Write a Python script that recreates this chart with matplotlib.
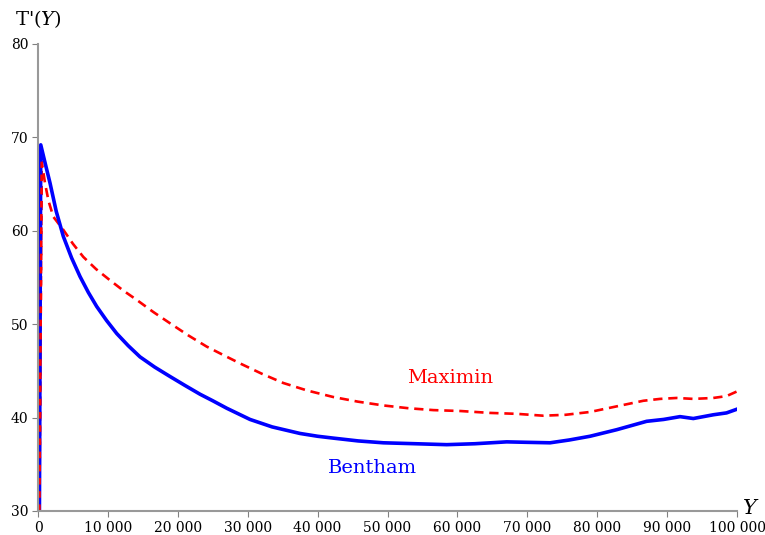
import numpy as np
import matplotlib.pyplot as plt

# Bentham / Maximin curves
x_bentham = [200, 390, 1000, 1720, 2600, 3620, 4800, 6010, 7200, 8390, 9800, 11260, 12900,
             14590, 16700, 18880, 21000, 23180, 25000, 27000, 30330, 33500, 37480, 40000,
             42250, 45800, 49400, 54000, 58470, 62500, 67050, 70000, 73250, 76000, 78970,
             82780, 87070, 89500, 91850, 93750, 96610, 98500, 100000]
y_bentham = [30, 69.2, 67.3, 65.1, 62.1, 59.4, 57.1, 55.1, 53.4, 51.9, 50.4, 49.0, 47.7,
             46.5, 45.4, 44.4, 43.45, 42.5, 41.8, 41.0, 39.8, 39.0, 38.3, 38.0,
             37.8, 37.5, 37.3, 37.2, 37.1, 37.2, 37.4, 37.35, 37.3, 37.6, 38.0,
             38.7, 39.6, 39.8, 40.1, 39.9, 40.3, 40.5, 40.9]

x_maximin = [200, 530, 1000, 1500, 2190, 3620, 5000, 6480, 8300, 10300, 12200, 14120,
             16500, 18880, 21500, 24130, 26500, 28900, 32000, 35100, 38500, 42250,
             45800, 49400, 53000, 56560, 60500, 64660, 68500, 72290, 75500, 78970,
             82780, 86600, 89000, 91370, 93750, 96610, 98500, 100000]
y_maximin = [30, 67.4, 65.1, 63.2, 61.5, 60.1, 58.6, 57.2, 55.9, 54.7, 53.6, 52.6,
             51.3, 50.1, 48.8, 47.6, 46.7, 45.8, 44.7, 43.7, 42.9, 42.2,
             41.7, 41.3, 41.0, 40.8, 40.7, 40.5, 40.4, 40.2, 40.3, 40.6,
             41.2, 41.8, 42.0, 42.1, 42.0, 42.1, 42.3, 42.8]

xticks = list(range(0, 100001, 10000))
xtick_labels = ["0"] + [f"{v // 1000} 000" for v in xticks[1:]]
yticks = [30, 40, 50, 60, 70, 80]

plt.rcParams['font.family'] = ['DejaVu Serif']
plt.rcParams['mathtext.fontset'] = 'dejavuserif'

fig = plt.figure(figsize=(7.65, 5.35), dpi=100)
ax = fig.add_axes([0.0497, 0.0449, 0.9137, 0.8729])

ax.plot(x_maximin, y_maximin, color='red', lw=1.9, dashes=(3.5, 2.2))
ax.plot(x_bentham, y_bentham, color='blue', lw=2.6)
# rising edge at the origin, dashed red drawn over the blue
ax.plot(x_maximin[:2], y_maximin[:2], color='red', lw=1.9, dashes=(2.5, 2.5))

ax.set_xlim(0, 100000)
ax.set_ylim(30, 80)
ax.set_xticks(xticks)
ax.set_xticklabels(xtick_labels)
ax.set_yticks(yticks)
ax.tick_params(labelsize=10, length=4, color='gray', pad=3)

for s in ['top', 'right']:
    ax.spines[s].set_visible(False)
for s in ['left', 'bottom']:
    ax.spines[s].set_color('#999999')
    ax.spines[s].set_linewidth(1.5)

ax.text(58900, 44.2, "Maximin", color='red', fontsize=14, ha='center', va='center')
ax.text(47900, 34.6, "Bentham", color='blue', fontsize=14, ha='center', va='center')

fig.text(0.05, 0.965, "T'($\\mathit{Y}$)", fontsize=14, ha='center', va='center')
fig.text(0.98, 0.05, "Y", fontsize=15, style='italic', ha='center', va='center')

fig.savefig("out.png", dpi=100)
